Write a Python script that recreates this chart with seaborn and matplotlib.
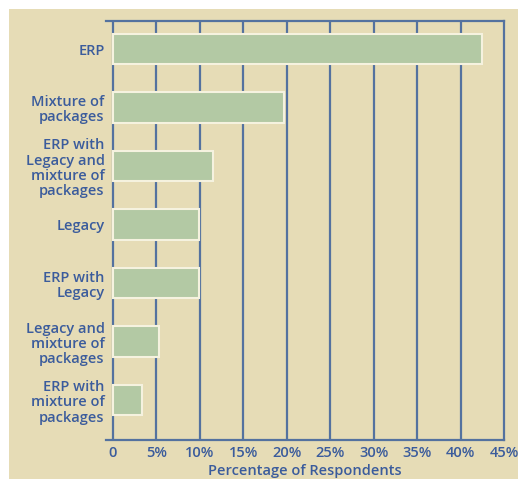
import matplotlib
matplotlib.use("Agg")
import matplotlib.pyplot as plt
from matplotlib.patches import Rectangle
import seaborn as sns
import pandas as pd

categories = [
    "ERP",
    "Mixture of\npackages",
    "ERP with\nLegacy and\nmixture of\npackages",
    "Legacy",
    "ERP with\nLegacy",
    "Legacy and\nmixture of\npackages",
    "ERP with\nmixture of\npackages",
]
percentages = [42.5, 19.7, 11.5, 9.9, 9.9, 5.3, 3.4]
tick_values = [0, 5, 10, 15, 20, 25, 30, 35, 40, 45]
tick_labels = ["0", "5%", "10%", "15%", "20%", "25%", "30%", "35%", "40%", "45%"]

df = pd.DataFrame({"system": categories, "pct": percentages})

BG = "#e6dcb6"
BAR = "#b3c9a4"
EDGE = "#f5f2df"
LINE = "#54729f"
TEXT = "#3b5c9c"

sns.set_style("white")
plt.rcParams["font.family"] = ["Open Sans", "DejaVu Sans"]

fig = plt.figure(figsize=(5.18, 4.79), dpi=100, facecolor="white")
fig.patches.append(Rectangle((9 / 518, 0), 1, 1 - 9 / 479, transform=fig.transFigure,
                             facecolor=BG, edgecolor="none", zorder=-10))
ax = fig.add_axes([106 / 518, 1 - 440 / 479, (504 - 106) / 518, (440 - 21) / 479])
ax.set_facecolor("none")

sns.barplot(data=df, x="pct", y="system", orient="h", color=BAR, width=0.52,
            edgecolor=EDGE, linewidth=1.5, saturation=1, ax=ax, zorder=3)

ax.set_xlim(-0.8, 45)
ax.set_ylim(6.68, -0.48)

# vertical grid lines at each 5% step (0 acts as the left axis)
for v in tick_values[:-1]:
    ax.axvline(v, color=LINE, lw=1.6, zorder=1)

ax.spines["left"].set_visible(False)
for side in ["top", "right", "bottom"]:
    ax.spines[side].set_visible(True)
    ax.spines[side].set_color(LINE)
    ax.spines[side].set_linewidth(1.6)

ax.set_xticks(tick_values)
ax.set_xticklabels(tick_labels)
ax.tick_params(axis="x", length=0, pad=4, labelsize=10.5, labelcolor=TEXT)
ax.tick_params(axis="y", length=0, pad=1, labelsize=10.5, labelcolor=TEXT)
for lbl in ax.get_yticklabels():
    lbl.set_fontweight("semibold")
    lbl.set_linespacing(1.12)
for lbl in ax.get_xticklabels():
    lbl.set_fontweight("semibold")

ax.set_ylabel("")
ax.set_xlabel("Percentage of Respondents", fontsize=10.5, fontweight="semibold",
              color=TEXT, labelpad=3.5)

fig.savefig("out.png", dpi=100, facecolor="white")
